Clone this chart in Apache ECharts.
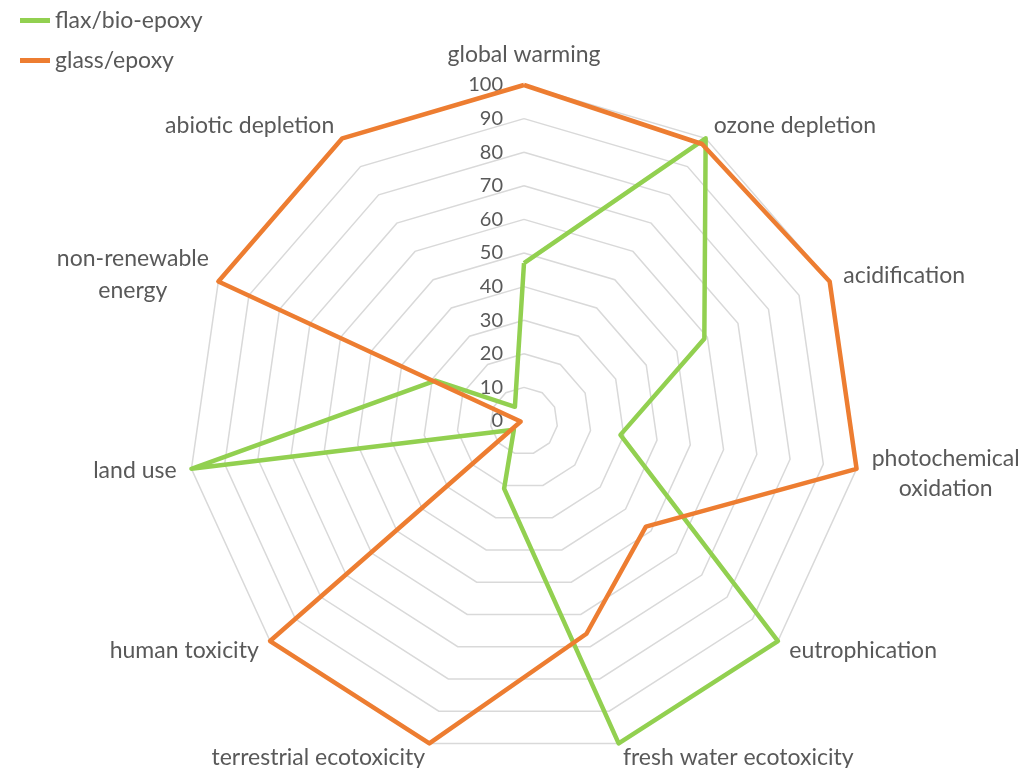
<!DOCTYPE html>
<html>
<head>
<meta charset="utf-8">
<script src="https://cdn.jsdelivr.net/npm/echarts@6/dist/echarts.min.js"></script>
<style>
  html, body { margin: 0; padding: 0; background: #fff; }
  #chart { width: 1025px; height: 768px; }
</style>
</head>
<body>
<div id="chart"></div>
<script>
// categories in clockwise order starting at the top
const categories = [
  'global warming', 'ozone depletion', 'acidification', 'photochemical oxidation',
  'eutrophication', 'fresh water ecotoxicity', 'terrestrial ecotoxicity',
  'human toxicity', 'land use', 'non-renewable energy', 'abiotic depletion'
];
const flaxBioEpoxy = [47, 100, 59, 29, 100, 100, 21, 4, 100, 29, 5];
const glassEpoxy = [100, 98, 100, 100, 48, 66, 100, 100, 1, 100, 100];
const seriesNames = ['flax/bio-epoxy', 'glass/epoxy'];

const textColor = '#595959';
const font = 'Lato';
const fontSize = 23;

// label tweaks so names sit where Excel puts them (two-line names are centred)
const nameTweaks = {
  'global warming': { nameGap: 19 },
  'photochemical oxidation': {
    label: '{a|photochemical}\n{b|oxidation}', nameGap: 90,
    nameTextStyle: { align: 'center', rich: { a: { lineHeight: 13, fontSize: fontSize }, b: { lineHeight: 47, fontSize: fontSize } } }
  },
  'non-renewable energy': {
    label: 'non-renewable\nenergy', nameGap: 94,
    nameTextStyle: { align: 'center', verticalAlign: 'top', lineHeight: 32 }
  }
};

// ECharts lays indicators out counter-clockwise, so keep the first and reverse the rest
const order = [0].concat(categories.map((_, i) => i).slice(1).reverse());

const indicators = order.map((i, k) => {
  const name = categories[i];
  const t = nameTweaks[name] || {};
  const ind = { name: t.label || name, min: 0, max: 100 };
  if (t.nameGap) ind.nameGap = t.nameGap;
  if (t.nameTextStyle) ind.nameTextStyle = t.nameTextStyle;
  if (k === 0) ind.axisLabel = { show: true };
  return ind;
});

const chart = echarts.init(document.getElementById('chart'), null, { renderer: 'canvas' });

chart.setOption({
  animation: false,
  textStyle: { fontFamily: font },
  legend: {
    orient: 'vertical',
    left: 15,
    top: 4,
    itemGap: 17,
    itemWidth: 30,
    itemHeight: 5,
    icon: 'rect',
    textStyle: { color: textColor, fontSize: fontSize, fontFamily: font },
    data: seriesNames
  },
  radar: {
    center: [524, 421],
    radius: 336,
    startAngle: 90,
    splitNumber: 10,
    shape: 'polygon',
    nameGap: 15,
    axisName: { color: textColor, fontSize: fontSize, fontFamily: font },
    axisLine: { show: false },
    axisTick: { show: false },
    axisLabel: { show: false, color: textColor, fontSize: 20, fontFamily: font, margin: 21, showMinLabel: true, showMaxLabel: true },
    splitLine: { lineStyle: { color: '#D9D9D9', width: 1.5 } },
    splitArea: { show: false },
    indicator: indicators
  },
  series: [{
    type: 'radar',
    symbol: 'none',
    data: [
      {
        name: seriesNames[0],
        value: order.map(i => flaxBioEpoxy[i]),
        lineStyle: { color: '#92D050', width: 4.5 },
        itemStyle: { color: '#92D050' }
      },
      {
        name: seriesNames[1],
        value: order.map(i => glassEpoxy[i]),
        lineStyle: { color: '#ED7D31', width: 4.5 },
        itemStyle: { color: '#ED7D31' }
      }
    ]
  }]
});
</script>
</body>
</html>
